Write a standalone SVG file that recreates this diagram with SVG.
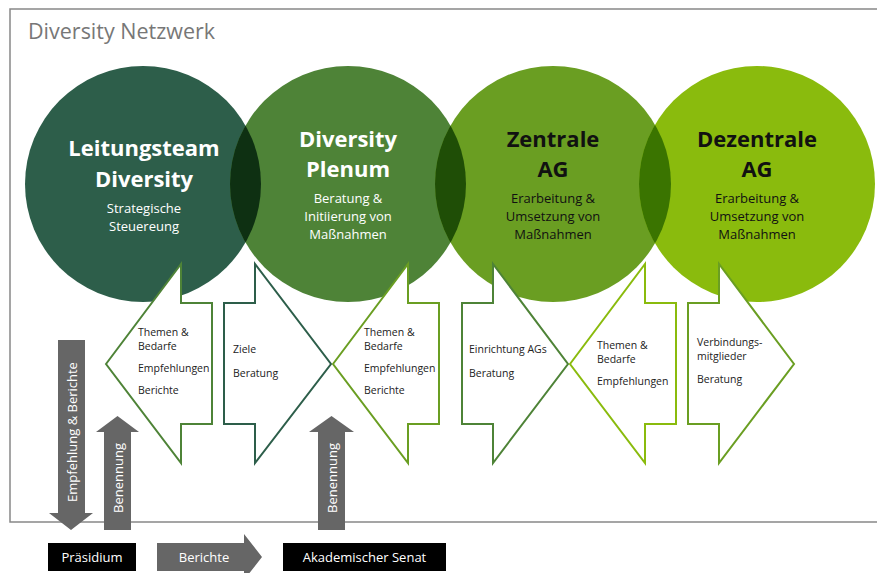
<svg xmlns="http://www.w3.org/2000/svg" width="877" height="573" viewBox="0 0 877 573">
<style>
.frame{fill:none;stroke:#888;stroke-width:1.5}
.title{font-family:"Open Sans",sans-serif;font-size:21.5px;fill:#777}
.h{font-family:"Open Sans",sans-serif;font-size:22px;font-weight:bold;text-anchor:middle}
.s{font-family:"Open Sans",sans-serif;font-size:13px;text-anchor:middle}
.w{fill:#fff}
.k{fill:#111}
.arr{fill:#fff;stroke-width:2}
.t{font-family:"Open Sans",sans-serif;font-size:10.5px;fill:#222}
.g{fill:#666}
.gt{font-family:"Open Sans",sans-serif;font-size:13px;fill:#fff;text-anchor:middle;dominant-baseline:central}
.box{fill:#000}
</style>
<defs>
<clipPath id="c1"><circle cx="143" cy="184" r="118"/></clipPath>
<clipPath id="c2"><circle cx="348" cy="184" r="118"/></clipPath>
<clipPath id="c3"><circle cx="553" cy="184" r="118"/></clipPath>
</defs>
<path class="frame" d="M877 9H10V522H877"/>
<text class="title" x="28" y="39">Diversity Netzwerk</text>

<g id="leitungsteam">
<circle cx="143" cy="184" r="118" fill="#2D5E4A"/>
</g>
<g id="plenum">
<circle cx="348" cy="184" r="118" fill="#4E8337"/>
<circle cx="348" cy="184" r="118" fill="#0E3012" clip-path="url(#c1)"/>
</g>
<g id="zentrale">
<circle cx="553" cy="184" r="118" fill="#6A9E22"/>
<circle cx="553" cy="184" r="118" fill="#1F4E06" clip-path="url(#c2)"/>
</g>
<g id="dezentrale">
<circle cx="757" cy="184" r="118" fill="#8ABB0D"/>
<circle cx="757" cy="184" r="118" fill="#3A7400" clip-path="url(#c3)"/>
</g>
<g id="circle-texts">
<text class="h w" x="144" y="156">Leitungsteam</text>
<text class="h w" x="144" y="187">Diversity</text>
<text class="s w" x="144" y="213">Strategische</text>
<text class="s w" x="144" y="231">Steuereung</text>
<text class="h w" x="348" y="147">Diversity</text>
<text class="h w" x="348" y="177">Plenum</text>
<text class="s w" x="348" y="203">Beratung &amp;</text>
<text class="s w" x="348" y="221">Initiierung von</text>
<text class="s w" x="348" y="239">Maßnahmen</text>
<text class="h k" x="553" y="147">Zentrale</text>
<text class="h k" x="553" y="177">AG</text>
<text class="s k" x="553" y="203">Erarbeitung &amp;</text>
<text class="s k" x="553" y="221">Umsetzung von</text>
<text class="s k" x="553" y="239">Maßnahmen</text>
<text class="h k" x="757" y="147">Dezentrale</text>
<text class="h k" x="757" y="177">AG</text>
<text class="s k" x="757" y="203">Erarbeitung &amp;</text>
<text class="s k" x="757" y="221">Umsetzung von</text>
<text class="s k" x="757" y="239">Maßnahmen</text>
</g>

<g id="connectors">
<g id="arrowA">
<polygon class="arr" stroke="#4E8337" points="106,364 181,264 181,303 212,303 212,424 181,424 181,463"/>
<text class="t" x="138" y="336">Themen &amp;</text>
<text class="t" x="138" y="350">Bedarfe</text>
<text class="t" x="138" y="372">Empfehlungen</text>
<text class="t" x="138" y="394">Berichte</text>
</g>
<g id="arrowB">
<polygon class="arr" stroke="#2D5E4A" points="224,303 255,303 255,264 331,364 255,463 255,424 224,424"/>
<text class="t" x="233" y="353">Ziele</text>
<text class="t" x="233" y="377">Beratung</text>
</g>
<g id="arrowC">
<polygon class="arr" stroke="#6A9E22" points="333,364 408,264 408,303 439,303 439,424 408,424 408,463"/>
<text class="t" x="364" y="336">Themen &amp;</text>
<text class="t" x="364" y="350">Bedarfe</text>
<text class="t" x="364" y="372">Empfehlungen</text>
<text class="t" x="364" y="394">Berichte</text>
</g>
<g id="arrowD">
<polygon class="arr" stroke="#4E8337" points="462,303 493,303 493,264 568,364 493,463 493,424 462,424"/>
<text class="t" x="469" y="353">Einrichtung AGs</text>
<text class="t" x="469" y="377">Beratung</text>
</g>
<g id="arrowE">
<polygon class="arr" stroke="#8ABB0D" points="570,364 645,264 645,303 676,303 676,424 645,424 645,463"/>
<text class="t" x="597" y="349">Themen &amp;</text>
<text class="t" x="597" y="363">Bedarfe</text>
<text class="t" x="597" y="385">Empfehlungen</text>
</g>
<g id="arrowF">
<polygon class="arr" stroke="#6A9E22" points="688,303 719,303 719,264 794,364 719,463 719,424 688,424"/>
<text class="t" x="697" y="346">Verbindungs-</text>
<text class="t" x="697" y="360">mitglieder</text>
<text class="t" x="697" y="383">Beratung</text>
</g>
<g id="down-empf">
<polygon class="g" points="58,340 85,340 85,513 93,513 71,530 49,513 58,513"/>
<text class="gt" transform="translate(71.5,432) rotate(-90)">Empfehlung &amp; Berichte</text>
</g>
<g id="up-ben1">
<polygon class="g" points="104,530 131,530 131,432 139,432 117.5,416 96,432 104,432"/>
<text class="gt" transform="translate(117.5,478) rotate(-90)">Benennung</text>
</g>
<g id="up-ben2">
<polygon class="g" points="318,530 345,530 345,432 354,432 331.5,416 309,432 318,432"/>
<text class="gt" transform="translate(331.5,478) rotate(-90)">Benennung</text>
</g>
<g id="right-berichte">
<polygon class="g" points="157,543 244,543 244,534 262,557 244,580 244,571 157,571"/>
<text class="gt" x="204" y="557">Berichte</text>
</g>
</g>

<g id="praesidium">
<rect class="box" x="48" y="543" width="88" height="28"/>
<text class="gt" x="92" y="557">Präsidium</text>
</g>
<g id="senat">
<rect class="box" x="283" y="543" width="163" height="28"/>
<text class="gt" x="364.5" y="557">Akademischer Senat</text>
</g>
</svg>
